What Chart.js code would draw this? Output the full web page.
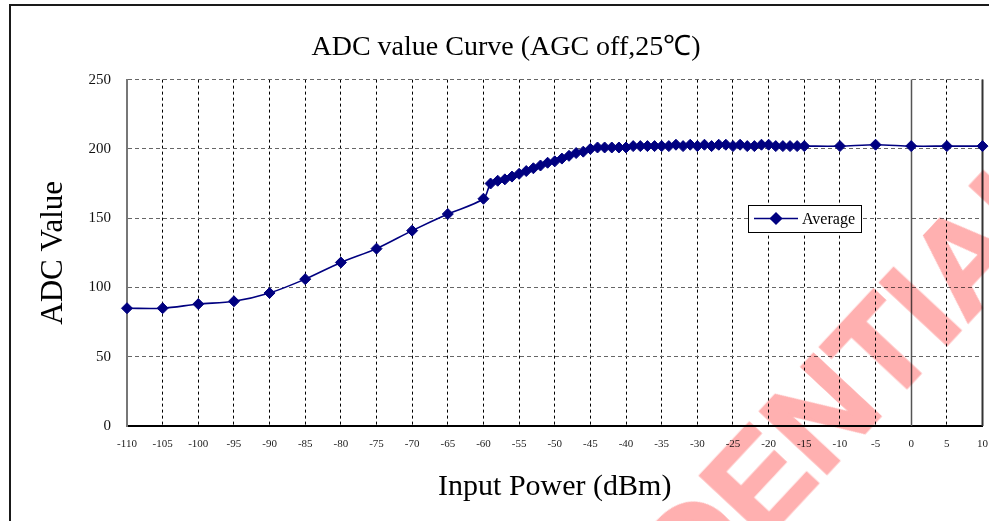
<!DOCTYPE html>
<html>
<head>
<meta charset="utf-8">
<script src="https://cdn.jsdelivr.net/npm/chart.js@4/dist/chart.umd.min.js"></script>
<style>
html, body { margin: 0; padding: 0; background: #fff; }
#wrap { position: relative; width: 989px; height: 521px; overflow: hidden; background: #fff; }
#frame { position: absolute; left: 9px; top: 4px; width: 1100px; height: 700px; border: 2px solid #1a1a1a; box-sizing: border-box; }
#chart { position: absolute; left: 0; top: 0; }
#stamp { position: absolute; left: 718px; top: 524px; transform: translate(-50%, -50%) rotate(-47deg);
         font: bold 132px "Liberation Sans", Arial, sans-serif; color: #ffb0b0;
         -webkit-text-stroke: 3px #ffb0b0; mix-blend-mode: multiply;
         white-space: nowrap; line-height: 1; pointer-events: none; }
</style>
</head>
<body>
<div id="wrap">
  <div id="frame"></div>
  <canvas id="chart" width="989" height="521"></canvas>
  <div id="stamp">CONFIDENTIAL</div>
</div>
<script>
// input power (dBm) and averaged ADC reading
const POWER_DBM = [
    -110, -105, -100, -95, -90, -85, -80, -75, -70, -65, -60,
    -59, -58, -57, -56, -55, -54, -53, -52, -51, -50, -49, -48, -47, -46, -45,
    -44, -43, -42, -41, -40, -39, -38, -37, -36, -35, -34, -33, -32, -31, -30,
    -29, -28, -27, -26, -25, -24, -23, -22, -21, -20, -19, -18, -17, -16, -15,
    -10, -5, 0, 5, 10
];
const ADC_AVG = [
    85, 85, 88, 90, 96, 106, 118, 128, 141, 153, 164,
    175, 177, 178, 180, 182, 184, 186, 188, 190, 191, 193, 195, 197, 198, 200,
    201, 201, 201, 201, 201, 202, 202, 202, 202, 202, 202, 203, 202, 203, 202,
    203, 202, 203, 203, 202, 203, 202, 202, 203, 203, 202, 202, 202, 202, 202,
    202, 203, 202, 202, 202
];

const X_MIN = -110, X_MAX = 10, X_STEP = 5;
const Y_MIN = 0, Y_MAX = 250, Y_STEP = 50;

const CHART_TITLE = 'ADC value Curve (AGC off,25℃)';
const SERIES_LABEL = 'Average';
const X_TITLE = 'Input Power (dBm)';
const Y_TITLE = 'ADC Value';

const NAVY = '#000080';
const SERIF = '"Liberation Serif", "Times New Roman", serif';

// solid lines at 0 dBm and the right edge, plus the boxed legend inside the plot
const extras = {
    id: 'extras',
    beforeDatasetsDraw(chart) {
        const { ctx, chartArea: ca, scales: { x } } = chart;
        ctx.save();
        ctx.lineWidth = 1.5;
        ctx.strokeStyle = '#555';
        const x0 = Math.round(x.getPixelForValue(0)) + 0.5;
        ctx.beginPath(); ctx.moveTo(x0, ca.top); ctx.lineTo(x0, ca.bottom); ctx.stroke();
        ctx.strokeStyle = '#333';
        ctx.lineWidth = 2;
        const xr = x.getPixelForValue(X_MAX);
        ctx.beginPath(); ctx.moveTo(xr, ca.top); ctx.lineTo(xr, ca.bottom); ctx.stroke();
        ctx.restore();
    },
    afterDraw(chart) {
        const ctx = chart.ctx;
        const ds = chart.data.datasets[0];
        const bx = 748, by = 205, bw = 113, bh = 27;
        ctx.save();
        ctx.fillStyle = '#fff';
        ctx.fillRect(bx, by, bw, bh);
        ctx.strokeStyle = '#000';
        ctx.lineWidth = 1;
        ctx.strokeRect(bx + 0.5, by + 0.5, bw, bh);
        const cy = by + 13.5;
        ctx.strokeStyle = NAVY;
        ctx.lineWidth = 1.5;
        ctx.beginPath(); ctx.moveTo(bx + 6, cy); ctx.lineTo(bx + 50, cy); ctx.stroke();
        ctx.fillStyle = NAVY;
        Chart.helpers.drawPoint(ctx, { pointStyle: 'rectRot', radius: 5.5, borderWidth: 1 }, bx + 28, cy);
        ctx.fillStyle = '#000';
        ctx.font = '16px ' + SERIF;
        ctx.textBaseline = 'middle';
        ctx.fillText(ds.label, bx + 54, cy + 1);
        ctx.restore();
    }
};

new Chart(document.getElementById('chart').getContext('2d'), {
    type: 'line',
    data: {
        datasets: [{
            label: SERIES_LABEL,
            data: POWER_DBM.map((p, i) => ({ x: p, y: ADC_AVG[i] })),
            borderColor: NAVY, backgroundColor: NAVY,
            borderWidth: 1.6, tension: 0.3, clip: false,
            pointStyle: 'rectRot', pointRadius: 5.5,
            pointBackgroundColor: NAVY, pointBorderColor: NAVY, pointBorderWidth: 1
        }]
    },
    options: {
        responsive: false, animation: false,
        layout: { padding: { left: 26, right: 3, top: 0, bottom: 0 } },
        plugins: {
            legend: { display: false },
            tooltip: { enabled: false },
            title: {
                display: true, text: CHART_TITLE, color: '#000',
                font: { family: SERIF, size: 28, weight: 'normal' },
                padding: { top: 31, bottom: 15 }
            }
        },
        scales: {
            x: {
                type: 'linear', min: X_MIN, max: X_MAX,
                ticks: { stepSize: X_STEP, color: '#222', padding: 12, maxRotation: 0, autoSkip: false,
                         font: { family: SERIF, size: 11 } },
                grid: { drawTicks: false, lineWidth: 1,
                        color: c => (c.tick && (c.tick.value === 0 || c.tick.value === X_MAX)) ? 'rgba(0,0,0,0)' : '#000' },
                border: { color: '#000', width: 2, dash: [3, 3] },
                title: { display: true, text: X_TITLE, color: '#000',
                         font: { family: SERIF, size: 30 }, padding: { top: 0, bottom: 16 } },
                afterFit: s => { s.height = 95; s.paddingLeft = 0; s.paddingRight = 0; }
            },
            y: {
                min: Y_MIN, max: Y_MAX,
                ticks: { stepSize: Y_STEP, color: '#111', padding: 16, font: { family: SERIF, size: 15 } },
                grid: { drawTicks: false, lineWidth: 1, color: '#666' },
                border: { color: '#777', width: 2, dash: [4, 3] },
                title: { display: true, text: Y_TITLE, color: '#000',
                         font: { family: SERIF, size: 31 }, padding: { top: 9, bottom: 0 } },
                afterFit: s => { s.width = 101; }
            }
        }
    },
    plugins: [extras]
});
</script>
</body>
</html>
